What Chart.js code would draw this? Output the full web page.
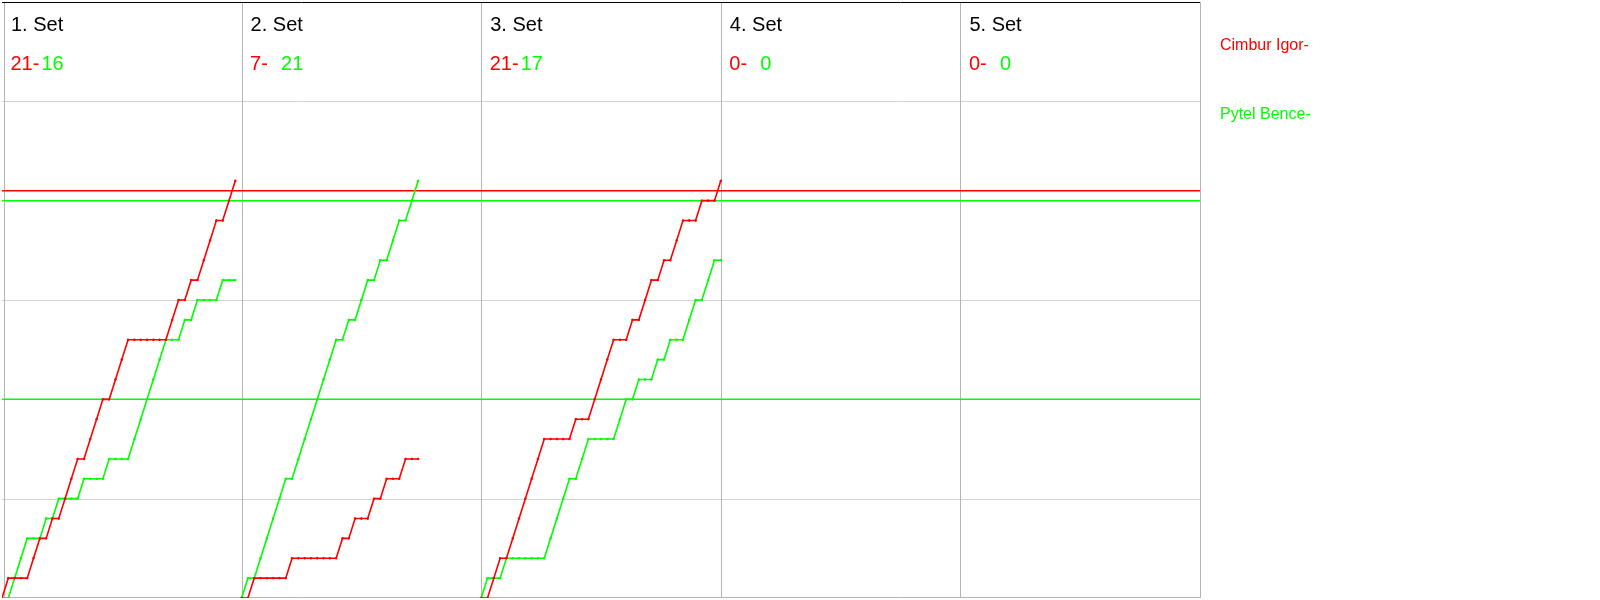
<!DOCTYPE html>
<html>
<head>
<meta charset="utf-8">
<script src="https://cdn.jsdelivr.net/npm/chart.js@4/dist/chart.umd.min.js"></script>
<style>
  html, body { margin: 0; padding: 0; background: #ffffff; }
  #wrap { width: 1600px; height: 600px; position: relative; }
</style>
</head>
<body>
<div id="wrap"><canvas id="c" width="1600" height="600"></canvas></div>
<script>
// ---- data ----
const setLabels = ['1. Set', '2. Set', '3. Set', '4. Set', '5. Set'];
const redFinal = [21, 7, 21, 0, 0];
const greenFinal = [16, 21, 17, 0, 0];
const playerRed = 'Cimbur Igor-';
const playerGreen = 'Pytel Bence-';

// running score after each rally (index = rally number)
const redSet1 = [0,1,1,1,1,2,3,3,4,4,5,6,7,7,8,9,10,10,11,12,13,13,13,13,13,13,13,14,15,15,16,16,17,18,19,19,20,21];
const greenSet1 = [0,0,1,2,3,3,3,4,4,5,5,5,5,6,6,6,6,7,7,7,7,8,9,10,11,12,13,13,13,14,14,15,15,15,15,16,16,16];
const redSet2 = [0,0,1,1,1,1,1,1,2,2,2,2,2,2,2,2,3,3,4,4,4,5,5,6,6,6,7,7,7];
const greenSet2 = [0,1,1,2,3,4,5,6,6,7,8,9,10,11,12,13,13,14,14,15,16,16,17,17,18,19,19,20,21];
const redSet3 = [0,0,1,2,2,3,4,5,6,7,8,8,8,8,8,9,9,9,10,11,12,13,13,13,14,14,15,16,16,17,17,18,19,19,19,20,20,20,21];
const greenSet3 = [0,1,1,1,2,2,2,2,2,2,2,3,4,5,6,6,7,8,8,8,8,8,9,10,10,11,11,11,12,12,13,13,13,14,15,15,16,17,17];
const redSet4 = [];
const greenSet4 = [];
const redSet5 = [];
const greenSet5 = [];

const ralliesPerPanel = 38;
const scoreMax = 30;
const gridScores = [5, 15, 25];
const redRefLines = [20.5];
const greenRefLines = [20, 10];

const RED = '#ff0000';
const GREEN = '#00ff00';

const redSets = [redSet1, redSet2, redSet3, redSet4, redSet5];
const greenSets = [greenSet1, greenSet2, greenSet3, greenSet4, greenSet5];

function toPoints(arr, panel) {
  return arr.map((v, k) => ({ x: panel * ralliesPerPanel + k, y: v }));
}

const datasets = [];
for (let p = 0; p < setLabels.length; p++) {
  const common = {
    borderWidth: 1.6,
    pointRadius: 1,
    pointHoverRadius: 1,
    pointStyle: 'rect',
    pointBorderWidth: 1,
    tension: 0,
    fill: false
  };
  datasets.push(Object.assign({
    label: playerRed + ' ' + setLabels[p],
    data: toPoints(redSets[p], p),
    borderColor: RED, backgroundColor: RED, pointBorderColor: RED, pointBackgroundColor: RED
  }, common));
  datasets.push(Object.assign({
    label: playerGreen + ' ' + setLabels[p],
    data: toPoints(greenSets[p], p),
    borderColor: GREEN, backgroundColor: GREEN, pointBorderColor: GREEN, pointBackgroundColor: GREEN
  }, common));
}

const FONT = 'Arial, "Liberation Sans", sans-serif';

const framePlugin = {
  id: 'frame',
  beforeDatasetsDraw(chart) {
    const { ctx, chartArea, scales } = chart;
    const xs = scales.x, ys = scales.y;
    const L = chartArea.left, R = chartArea.right, T = chartArea.top, B = chartArea.bottom;
    ctx.save();
    // horizontal light grid
    ctx.strokeStyle = '#d2d2d2';
    ctx.lineWidth = 1;
    gridScores.forEach(s => {
      const y = Math.round(ys.getPixelForValue(s)) + 0.5;
      ctx.beginPath(); ctx.moveTo(L, y); ctx.lineTo(R, y); ctx.stroke();
    });
    // bottom line
    ctx.strokeStyle = '#b4b4b4';
    ctx.beginPath(); ctx.moveTo(L, B - 0.5); ctx.lineTo(R, B - 0.5); ctx.stroke();
    // panel separators
    for (let p = 1; p <= setLabels.length; p++) {
      const x = Math.round(xs.getPixelForValue(p * ralliesPerPanel)) + 0.5;
      ctx.beginPath(); ctx.moveTo(x, T); ctx.lineTo(x, B); ctx.stroke();
    }
    ctx.beginPath(); ctx.moveTo(L + 2.5, T); ctx.lineTo(L + 2.5, B); ctx.stroke();
    // top border
    ctx.strokeStyle = '#000000';
    ctx.beginPath(); ctx.moveTo(L, T + 0.5); ctx.lineTo(R, T + 0.5); ctx.stroke();
    // reference lines
    ctx.lineWidth = 1.5;
    ctx.strokeStyle = RED;
    redRefLines.forEach(s => {
      const y = ys.getPixelForValue(s);
      ctx.beginPath(); ctx.moveTo(L, y); ctx.lineTo(R, y); ctx.stroke();
    });
    ctx.strokeStyle = GREEN;
    greenRefLines.forEach(s => {
      const y = ys.getPixelForValue(s);
      ctx.beginPath(); ctx.moveTo(L, y); ctx.lineTo(R, y); ctx.stroke();
    });
    // headers
    ctx.textBaseline = 'alphabetic';
    ctx.textAlign = 'left';
    ctx.font = '20px ' + FONT;
    for (let p = 0; p < setLabels.length; p++) {
      const x0 = xs.getPixelForValue(p * ralliesPerPanel);
      ctx.fillStyle = '#000000';
      ctx.fillText(setLabels[p], x0 + 9, 31);
      ctx.fillStyle = RED;
      ctx.fillText(redFinal[p] + '-', x0 + 8.5, 70);
      ctx.fillStyle = GREEN;
      ctx.fillText(String(greenFinal[p]), x0 + 39.5, 70);
    }
    // player names at the right
    ctx.font = '16px ' + FONT;
    ctx.fillStyle = RED;
    ctx.fillText(playerRed, R + 20, 50);
    ctx.fillStyle = GREEN;
    ctx.fillText(playerGreen, R + 20, 119);
    ctx.restore();
  }
};

new Chart(document.getElementById('c'), {
  type: 'line',
  data: { datasets },
  options: {
    responsive: false,
    animation: false,
    events: [],
    layout: { padding: { left: 0, right: 400, top: 0, bottom: 0 } },
    plugins: { legend: { display: false }, tooltip: { enabled: false }, title: { display: false } },
    scales: {
      x: { type: 'linear', min: 0, max: setLabels.length * ralliesPerPanel, display: false },
      y: { type: 'linear', min: 0, max: scoreMax, display: false }
    }
  },
  plugins: [framePlugin]
});
</script>
</body>
</html>
